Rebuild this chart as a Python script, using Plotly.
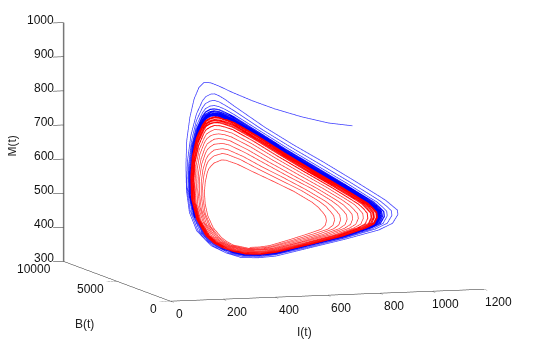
import plotly.graph_objects as go

I_TICKS = [0, 200, 400, 600, 800, 1000, 1200]
B_TICKS = [0, 5000, 10000]
M_TICKS = [300, 400, 500, 600, 700, 800, 900, 1000]

# one turn of the orbit, read round the loop; B(t) cannot be read exactly from the projection, so estimated
B_TURN = [4000, 4000, 4000, 4000, 4000, 4000, 4000,
          2000, 2000, 2000, 2000, 2000, 2000, 2000, 2000, 2000, 2000, 2000,
          3000, 3000, 3000, 3000, 3000, 3000, 3000, 3000, 3000,
          4000, 4000, 4000, 4000, 4000]

# red trajectory: spirals outward from the inside
RED_I = [
    [465,503,541,617,687,738,754,677,674,663,645,622,552,470,393,336,292,275,302,288,277,268,262,254,251,254,264,325,357,377,401,432],
    [463,504,545,629,708,765,784,708,705,693,675,651,580,494,412,348,297,278,303,288,276,266,259,249,244,246,254,315,348,369,395,428],
    [461,505,548,638,724,786,806,731,728,716,698,674,600,513,427,358,301,280,304,288,276,265,257,245,239,239,247,308,341,364,390,424],
    [460,505,551,648,742,808,830,756,754,741,722,697,623,532,443,368,305,282,305,288,275,263,255,241,233,232,239,300,334,357,385,421],
    [458,506,554,657,756,827,851,777,775,762,743,718,641,549,456,376,309,284,306,289,275,262,253,238,228,226,233,293,327,352,381,417],
    [457,507,557,665,771,846,871,799,796,783,764,738,660,566,469,385,312,286,306,289,274,260,251,234,223,221,226,287,321,347,377,414],
    [456,507,559,672,784,863,890,818,816,802,783,756,678,581,481,392,315,287,307,289,274,259,250,231,219,215,220,280,315,342,373,412],
    [454,508,562,679,796,878,907,835,833,819,800,773,693,595,492,399,318,289,308,289,274,258,248,229,215,211,215,275,310,338,370,409],
    [453,508,563,685,805,890,920,849,847,832,813,786,705,605,501,405,320,290,308,289,273,257,247,226,212,207,211,271,306,334,367,407],
    [453,509,565,688,812,899,929,858,856,842,823,795,714,613,507,408,322,291,309,289,273,257,246,225,210,204,208,268,303,332,365,406],
]
RED_M = [
    [398,398,401,416,431,443,454,493,506,518,534,549,583,616,646,669,682,683,666,662,654,646,635,606,577,543,508,460,430,418,407,401],
    [395,395,398,414,430,443,454,494,507,519,535,550,585,620,654,682,699,702,686,683,676,668,657,627,594,556,516,464,431,418,406,399],
    [393,392,396,412,428,443,454,494,508,520,535,550,586,624,660,691,712,716,702,700,693,685,674,643,607,565,522,468,432,417,405,398],
    [391,390,393,410,427,443,454,495,508,521,536,551,588,627,667,701,726,731,718,717,711,703,692,661,621,576,529,471,433,417,405,396],
    [389,388,391,408,426,443,454,495,509,522,537,551,589,630,672,710,738,744,733,732,726,719,707,675,633,585,535,474,434,417,404,395],
    [387,385,389,407,425,443,454,496,510,522,537,552,590,633,678,719,750,757,747,746,742,734,723,690,645,593,540,477,434,417,403,393],
    [385,383,387,405,424,443,454,496,510,523,538,552,591,636,683,727,761,768,759,760,755,748,736,703,656,601,545,480,435,417,403,392],
    [383,382,385,404,424,443,454,496,511,524,538,552,592,638,687,734,771,779,771,772,768,761,749,715,666,609,550,482,436,416,402,391],
    [382,380,384,403,423,443,454,497,511,524,539,553,593,640,691,739,778,787,780,781,778,771,759,724,673,614,553,484,436,416,402,390],
    [381,379,383,402,423,443,454,497,512,525,539,553,593,641,693,743,784,793,786,788,785,778,766,731,679,618,556,485,437,416,401,390],
]
# the limit cycle, reached by both trajectories
LIMIT_I = [452,509,566,693,820,909,940,870,868,853,834,806,724,622,514,413,324,292,309,289,273,256,245,223,207,201,204,264,300,329,363,404]
LIMIT_M = [380,378,382,401,422,443,454,497,512,525,539,553,594,643,696,748,790,800,794,796,793,786,774,739,685,623,559,487,437,416,401,389]

# blue trajectory: first pass from the starting point, then spirals inward
START_I = [778,686,584,482,394,317,266,235,251,232,213,197,185,182,184,236,264,319,376]
START_B = [2000,2000,2000,2000,2000,2000,2000,2000,3000,3000,3000,3000,3000,3000,3000,4000,4000,4000,4000]
START_M = [768,779,800,826,853,880,900,910,899,885,851,798,730,657,584,507,452,407,384]
BLUE_I = [
    [433,497,566,693,833,960,1013,952,950,929,905,876,781,667,552,444,324,292,309,292,277,258,245,222,201,188,185,239,268,296,331,376],
    [438,500,566,693,829,946,993,929,927,908,885,856,765,654,541,435,324,292,309,291,276,257,245,222,203,192,190,246,277,305,340,384],
    [442,503,566,693,827,935,977,911,909,891,870,841,753,645,533,429,324,292,309,291,275,257,245,222,204,194,194,251,284,312,347,390],
    [445,505,566,693,825,927,966,900,898,880,860,831,745,638,528,424,324,292,309,290,274,257,245,223,205,196,197,255,288,317,351,394],
    [447,506,566,693,823,922,958,891,888,872,852,824,738,633,524,421,324,292,309,290,274,257,245,223,205,198,199,258,292,321,355,397],
]
BLUE_M = [
    [369,366,369,389,411,434,452,503,516,530,546,561,609,665,719,773,840,859,858,864,864,857,845,807,745,671,598,512,454,426,404,384],
    [372,369,373,392,414,437,453,501,515,529,544,559,605,659,713,766,826,842,840,845,844,837,825,788,728,658,587,505,449,423,403,385],
    [374,372,375,395,416,438,453,500,514,528,543,557,602,654,708,761,815,830,826,830,829,822,810,773,715,647,579,500,446,421,403,387],
    [376,374,377,397,418,440,453,499,513,527,542,556,599,651,704,757,808,821,817,820,819,812,800,763,707,640,573,496,443,420,402,387],
    [377,375,379,398,419,441,453,499,513,526,541,555,598,649,702,754,803,815,810,813,811,804,792,756,700,635,569,493,441,419,402,388],
]
BAND_I = [450,508,566,693,822,915,949,880,878,862,843,814,731,627,519,417,324,292,309,289,273,256,245,223,206,199,202,261,296,325,359,401]
BAND_M = [379,377,380,400,421,442,454,498,512,526,540,554,596,646,699,751,796,807,802,804,802,795,783,747,692,629,564,490,439,417,401,388]

RED = "#ff0000"
BLUE = "#0000ff"
THIN_RED = "#ff3a3a"
THIN_BLUE = "#3a3aff"
INK = "#222222"


def flat(rows):
    return [v for row in rows for v in row]


def line_trace(x, y, z, color, width):
    return go.Scatter3d(x=x, y=y, z=z, mode="lines", showlegend=False, hoverinfo="skip",
                        line=dict(color=color, width=width))


def closed(vals):
    return vals + vals[:1]


red_b = [v - 40 for v in B_TURN]
fig = go.Figure([
    line_trace(START_I + flat(BLUE_I), START_B + B_TURN * len(BLUE_I), START_M + flat(BLUE_M), THIN_BLUE, 1.5),
    line_trace(closed(BLUE_I[-2]), closed(B_TURN), closed(BLUE_M[-2]), BLUE, 2.5),
    line_trace(closed(BLUE_I[-1]), closed(B_TURN), closed(BLUE_M[-1]), BLUE, 4),
    line_trace(closed(BAND_I), closed(B_TURN), closed(BAND_M), BLUE, 7),
    line_trace(flat(RED_I), red_b * len(RED_I), flat(RED_M), THIN_RED, 1.5),
    line_trace(closed(RED_I[-3]), closed(red_b), closed(RED_M[-3]), RED, 2),
    line_trace(closed(RED_I[-2]), closed(red_b), closed(RED_M[-2]), RED, 3),
    line_trace(closed(RED_I[-1]), closed(red_b), closed(RED_M[-1]), RED, 4),
    line_trace(closed(LIMIT_I), closed(red_b), closed(LIMIT_M), RED, 4),
])


def axis(lo, hi, vals, color, width):
    return dict(title=dict(text=""), range=[lo, hi], tickvals=vals, showticklabels=False,
                showbackground=False, showgrid=False, zeroline=False, showspikes=False,
                showline=True, linecolor=color, linewidth=width,
                ticks="outside", ticklen=11, tickcolor=INK, tickwidth=1)


tick_font = dict(size=12, family="Liberation Sans", color="#111111")
scene_notes = []
for v in I_TICKS:
    scene_notes.append(dict(x=v, y=0, z=300, text=str(v), showarrow=False, font=tick_font,
                            xshift=9 if v == 0 else 14, yshift=-13))
for v in B_TICKS:
    scene_notes.append(dict(x=0, y=v, z=300, text=str(v), showarrow=False, font=tick_font,
                            xanchor="right", xshift=-11, yshift=-8))
for v in M_TICKS:
    scene_notes.append(dict(x=0, y=10000, z=v, text=str(v), showarrow=False, font=tick_font,
                            xanchor="right", xshift=-8, yshift=3))

view = (-0.3024, -0.9457, 0.1192)
shift = (0.0513, -0.0221, -0.0454)
k = 2.0
title_font = dict(size=12, color=INK)
fig.update_layout(
    width=533, height=343, margin=dict(l=0, r=0, t=0, b=0),
    paper_bgcolor="white", font=dict(family="Liberation Sans"),
    scene=dict(
        domain=dict(x=[0.03, 1], y=[0.096, 1]),
        aspectmode="manual", aspectratio=dict(x=2.125, y=2.26, z=1.552),
        camera=dict(projection=dict(type="orthographic"), up=dict(x=0, y=0, z=1),
                    center=dict(x=shift[0], y=shift[1], z=shift[2]),
                    eye=dict(x=view[0]*k + shift[0], y=view[1]*k + shift[1], z=view[2]*k + shift[2])),
        xaxis=axis(0, 1200, I_TICKS, INK, 1),
        yaxis=axis(0, 10000, B_TICKS, INK, 1),
        zaxis=axis(300, 1000, M_TICKS, "#777777", 3),
        annotations=scene_notes,
    ),
    annotations=[
        dict(text="I(t)", x=296/533, y=1-323.5/343, xref="paper", yref="paper", showarrow=False,
             xanchor="center", yanchor="middle", font=title_font),
        dict(text="B(t)", x=76/533, y=1-315.5/343, xref="paper", yref="paper", showarrow=False,
             xanchor="center", yanchor="middle", font=title_font),
        dict(text="M(t)", x=3/533, y=1-138.5/343, xref="paper", yref="paper", showarrow=False,
             xanchor="center", yanchor="middle", textangle=-90, font=title_font),
    ],
)
fig.write_html("out.html")
